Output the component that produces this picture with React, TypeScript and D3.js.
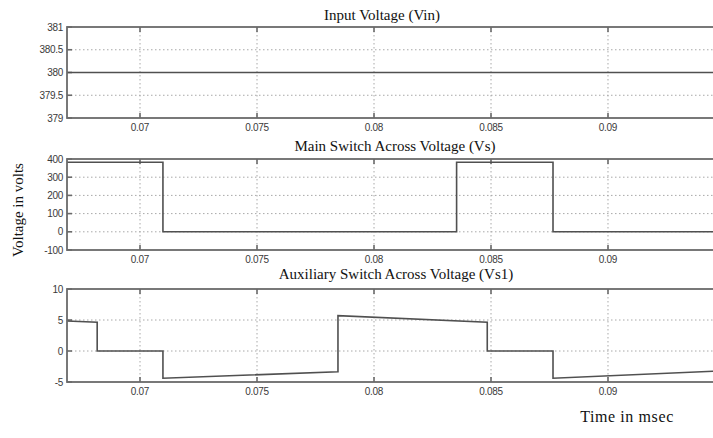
import React from "react";
import * as d3 from "d3";

// Time axis (seconds) shared by all three panels
const timeDomain: [number, number] = [0.06688, 0.09453];
const timeTicks = [0.07, 0.075, 0.08, 0.085, 0.09];
const timeTickLabels = ["0.07", "0.075", "0.08", "0.085", "0.09"];

// Input voltage (Vin)
const vinTimes = [0.06688, 0.09453];
const vinValues = [380, 380];
const vinTicks = [379, 379.5, 380, 380.5, 381];
const vinTickLabels = ["379", "379.5", "380", "380.5", "381"];

// Main switch voltage (Vs)
const vsTimes = [0.06688, 0.07098, 0.07098, 0.08353, 0.08353, 0.08765, 0.08765, 0.09453];
const vsValues = [382, 382, 0, 0, 382, 382, 0, 0];
const vsTicks = [-100, 0, 100, 200, 300, 400];
const vsTickLabels = ["-100", "0", "100", "200", "300", "400"];

// Auxiliary switch voltage (Vs1)
const vs1Times = [
  0.06688, 0.06817, 0.06817, 0.07098, 0.07098, 0.07846, 0.07846, 0.08484, 0.08484, 0.08765,
  0.08765, 0.09453,
];
const vs1Values = [4.85, 4.65, 0, 0, -4.4, -3.35, 5.7, 4.65, 0, 0, -4.4, -3.25];
const vs1Ticks = [-5, 0, 5, 10];
const vs1TickLabels = ["-5", "0", "5", "10"];

const W = 713;
const H = 438;
const LEFT = 67;
const RIGHT = 714;

const FRAME = "#6a6a6a";
const LINE = "#505050";
const GRID = "#a8a8a8";
const TICK_TEXT = "#3a3a3a";
const SERIF = "'Liberation Serif', 'Times New Roman', serif";
const SANS = "'Liberation Sans', Arial, sans-serif";

type PanelProps = {
  title: string;
  titleX: number;
  titleY: number;
  top: number;
  bottom: number;
  yDomain: [number, number];
  yTicks: number[];
  yTickLabels: string[];
  times: number[];
  values: number[];
};

function Panel(p: PanelProps) {
  const x = d3.scaleLinear().domain(timeDomain).range([LEFT, RIGHT]);
  const y = d3.scaleLinear().domain(p.yDomain).range([p.bottom, p.top]);
  const pts: [number, number][] = p.times.map((t, i) => [t, p.values[i]]);
  const path = d3
    .line<[number, number]>()
    .x((d) => x(d[0]))
    .y((d) => y(d[1]))(pts);
  const innerY = p.yTicks.filter((v) => v > p.yDomain[0] && v < p.yDomain[1]);
  return (
    <g>
      <text x={p.titleX} y={p.titleY} textAnchor="middle" fontFamily={SERIF} fontSize={15} fill="#111">
        {p.title}
      </text>
      {/* dotted grid */}
      {timeTicks.map((t) => (
        <line
          key={"gx" + t}
          x1={x(t)}
          x2={x(t)}
          y1={p.top}
          y2={p.bottom}
          stroke={GRID}
          strokeWidth={1}
          strokeDasharray="1.5,2.5"
        />
      ))}
      {innerY.map((v) => (
        <line
          key={"gy" + v}
          x1={LEFT}
          x2={RIGHT}
          y1={y(v)}
          y2={y(v)}
          stroke={GRID}
          strokeWidth={1}
          strokeDasharray="1.5,2.5"
        />
      ))}
      {/* inward tick marks */}
      {timeTicks.map((t) => (
        <g key={"tx" + t}>
          <line x1={x(t)} x2={x(t)} y1={p.top} y2={p.top + 5} stroke={FRAME} strokeWidth={1.6} />
          <line x1={x(t)} x2={x(t)} y1={p.bottom} y2={p.bottom - 5} stroke={FRAME} strokeWidth={1.6} />
        </g>
      ))}
      {p.yTicks.map((v) => (
        <line key={"ty" + v} x1={LEFT} x2={LEFT + 5} y1={y(v)} y2={y(v)} stroke={FRAME} strokeWidth={1.6} />
      ))}
      {/* data trace */}
      <path d={path ?? ""} fill="none" stroke={LINE} strokeWidth={1.6} />
      {/* axes box */}
      <rect
        x={LEFT}
        y={p.top}
        width={RIGHT - LEFT}
        height={p.bottom - p.top}
        fill="none"
        stroke={FRAME}
        strokeWidth={1.8}
      />
      {/* tick labels */}
      {p.yTicks.map((v, i) => (
        <text
          key={"ly" + v}
          x={LEFT - 4}
          y={y(v)}
          dy="0.35em"
          textAnchor="end"
          fontFamily={SANS}
          fontSize={10}
          fill={TICK_TEXT}
          letterSpacing={-0.3}
        >
          {p.yTickLabels[i]}
        </text>
      ))}
      {timeTicks.map((t, i) => (
        <text
          key={"lx" + t}
          x={x(t)}
          y={p.bottom + 13}
          textAnchor="middle"
          fontFamily={SANS}
          fontSize={10}
          fill={TICK_TEXT}
          letterSpacing={-0.3}
        >
          {timeTickLabels[i]}
        </text>
      ))}
    </g>
  );
}

export default function App() {
  return (
    <svg
      width={W}
      height={H}
      viewBox={`0 0 ${W} ${H}`}
      style={{ position: "absolute", left: 0, top: 0, background: "#fff" }}
    >
      <rect x={0} y={0} width={W} height={H} fill="#fff" />
      <Panel
        title="Input Voltage (Vin)"
        titleX={382}
        titleY={20}
        top={27}
        bottom={118}
        yDomain={[379, 381]}
        yTicks={vinTicks}
        yTickLabels={vinTickLabels}
        times={vinTimes}
        values={vinValues}
      />
      <Panel
        title="Main Switch Across Voltage (Vs)"
        titleX={395}
        titleY={151}
        top={159}
        bottom={250}
        yDomain={[-100, 400]}
        yTicks={vsTicks}
        yTickLabels={vsTickLabels}
        times={vsTimes}
        values={vsValues}
      />
      <Panel
        title="Auxiliary Switch Across Voltage (Vs1)"
        titleX={396}
        titleY={279}
        top={289}
        bottom={382}
        yDomain={[-5, 10]}
        yTicks={vs1Ticks}
        yTickLabels={vs1TickLabels}
        times={vs1Times}
        values={vs1Values}
      />
      <text
        transform="translate(23, 210) rotate(-90)"
        textAnchor="middle"
        fontFamily={SERIF}
        fontSize={15}
        fill="#111"
      >
        Voltage in volts
      </text>
      <text
        x={627}
        y={422}
        textAnchor="middle"
        fontFamily={SERIF}
        fontSize={16}
        letterSpacing={0.6}
        fill="#111"
      >
        Time in msec
      </text>
    </svg>
  );
}
